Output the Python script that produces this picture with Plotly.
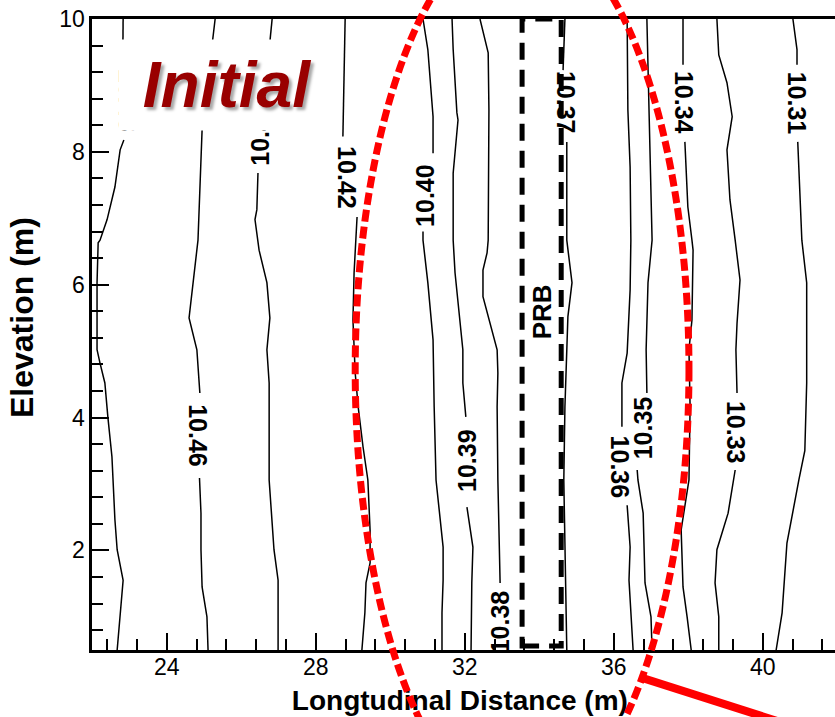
import plotly.graph_objects as go

# ---- figure geometry (pixels) ----
W, H = 835, 717
PLOT_LEFT, PLOT_RIGHT = 92.2, 835.0
PLOT_TOP, PLOT_BOTTOM = 19.0, 650.0

# ---- axis ranges ----
X_RANGE = [22.0, 41.94]
Y_RANGE = [0.5, 10.0]
X_TICKS = [24, 28, 32, 36, 40]
Y_TICKS = [2, 4, 6, 8, 10]

# ---- hydraulic-head isolines (m); None marks the gap left for the inline label ----
levels = ["10.48", "10.46", "10.44", "10.42", "10.40", "10.39", "10.38",
          "10.37", "10.36", "10.35", "10.34", "10.33", "10.31"]

h1048_x = [22.83, 22.82, None, 22.85, 22.75, 22.61, 22.40, 22.21, 22.16, 22.13, 22.13, 22.21,
           22.34, 22.42, 22.53, 22.61, 22.67, 22.83, 22.75, 22.67]
h1048_y = [10.0, 9.30, None, 8.18, 8.03, 7.47, 6.98, 6.67, 6.63, 6.03, 5.02, 4.82,
           4.52, 4.01, 3.41, 2.46, 2.01, 1.55, 1.06, 0.5]

h1046_x = [25.30, 24.95, 24.84, 24.81, 24.71, 24.60, 24.81, 24.89, None,
           24.88, 24.92, 24.92, 24.95, 25.08, 25.11]
h1046_y = [10.0, 8.33, 6.67, 6.52, 6.03, 5.50, 5.02, 4.37, None,
           3.09, 2.56, 2.01, 1.45, 1.00, 0.5]

h1044_x = [26.83, 26.62, None, 26.45, 26.42, 26.37, 26.45, 26.48, 26.69, 26.77, 26.69,
           26.75, 26.75, 26.88, 26.99, 26.99]
h1044_y = [10.0, 8.80, None, 7.68, 7.13, 6.98, 6.67, 6.52, 6.03, 5.50, 5.02,
           4.52, 3.06, 2.01, 1.55, 0.5]

h1042_x = [28.79, 28.73, None, 29.11, 29.08, 29.03, 29.00, 29.06, 29.14, 29.27, 29.40,
           29.46, 29.46, 29.35, 29.32, 29.24]
h1042_y = [10.0, 8.23, None, 7.02, 6.67, 6.18, 5.47, 4.67, 4.16, 3.56, 3.06,
           2.30, 1.81, 1.51, 1.06, 0.5]

h1040_x = [30.88, 31.01, 31.15, 31.15, None, 30.88, 30.88, 31.01, 31.15, 31.18, 31.23,
           31.42, 31.42, 31.39, 31.39]
h1040_y = [10.0, 9.54, 8.53, 7.98, None, 6.80, 6.67, 6.03, 5.17, 4.16, 3.06,
           2.05, 1.55, 1.06, 0.5]

h1039_x = [31.66, 31.69, 31.79, 31.82, 31.69, 31.69, 31.74, 31.87, 31.95, 31.95, 32.03, None,
           32.06, 32.22, 32.19, 32.17]
h1039_y = [10.0, 9.54, 8.59, 8.48, 7.68, 6.67, 6.18, 5.42, 5.02, 4.52, 4.01, None,
           2.65, 2.05, 1.51, 0.5]

h1038_x = [32.41, 32.63, 32.65, 32.63, 32.60, 32.49, 32.49, 32.87, 32.89, 32.87, 32.89, 32.95]
h1038_y = [10.0, 9.49, 8.63, 6.67, 6.48, 6.22, 5.82, 5.02, 4.67, 4.16, 3.06, 1.51]

h1037_x = [34.69, 34.64, None, 34.74, 34.74, 34.88, 34.77, 34.69, 34.66, 34.74]
h1037_y = [10.0, 9.23, None, 8.15, 6.67, 6.03, 5.52, 4.16, 3.06, 0.5]

h1036_x = [36.36, 36.38, 36.44, 36.46, 36.44, 36.36, 36.22, 36.22, None,
           36.36, 36.44, 36.41, 36.46, 36.52]
h1036_y = [10.0, 8.63, 7.77, 6.67, 5.92, 4.97, 4.52, 3.86, None,
           2.68, 2.05, 1.55, 1.00, 0.5]

h1035_x = [36.89, 36.92, 37.00, 37.03, 36.92, 36.87, 36.89, None,
           36.63, 36.65, 36.79, 36.84, 37.00, 37.03]
h1035_y = [10.0, 9.28, 7.47, 6.67, 6.03, 5.02, 4.37, None,
           3.21, 3.06, 2.56, 1.51, 1.00, 0.5]

h1034_x = [37.86, 37.86, None, 37.91, 37.99, 38.10, 38.13, 38.10, 38.02, 38.05, 38.02,
           37.81, 37.86, 37.97, 38.08]
h1034_y = [10.0, 9.31, None, 8.15, 7.17, 6.67, 6.52, 5.47, 5.02, 4.16, 3.06,
           2.31, 1.45, 1.00, 0.5]

h1033_x = [38.77, 38.82, 39.04, 39.18, 39.04, 39.12, 39.26, 39.39, 39.31, 39.28, 39.31, None,
           39.26, 39.07, 38.77, 38.72, 38.82, 38.82]
h1033_y = [10.0, 9.46, 9.04, 8.53, 8.03, 7.28, 6.67, 6.07, 5.42, 5.02, 4.37, None,
           3.21, 2.56, 2.01, 1.51, 1.00, 0.5]

h1031_x = [40.81, 40.92, 40.92, None, 40.94, 41.05, 41.18, 41.18, 41.13, 40.97, 40.65, 40.52, 40.36]
h1031_y = [10.0, 9.54, 9.31, None, 8.15, 6.67, 6.03, 4.52, 3.50, 3.06, 2.11, 1.06, 0.5]

isolines_x = [h1048_x, h1046_x, h1044_x, h1042_x, h1040_x, h1039_x, h1038_x,
              h1037_x, h1036_x, h1035_x, h1034_x, h1033_x, h1031_x]
isolines_y = [h1048_y, h1046_y, h1044_y, h1042_y, h1040_y, h1039_y, h1038_y,
              h1037_y, h1036_y, h1035_y, h1034_y, h1033_y, h1031_y]

# inline label anchors and reading direction (+90 top-down, -90 bottom-up)
label_x = [22.96, 24.84, 26.50, 28.84, 30.93, 32.06, 32.97, 34.74, 36.17, 36.79, 37.89, 39.28, 40.92]
label_y = [8.77, 3.72, 8.27, 7.62, 7.35, 3.36, 0.93, 8.74, 3.26, 3.84, 8.75, 3.77, 8.74]
label_dir = [90, 90, -90, 90, -90, -90, -90, 90, 90, -90, 90, 90, 90]

# permeable reactive barrier outline
prb_x = [33.54, 34.59]
prb_y = [0.56, 10.0]

# zone of interest (ellipse) and its leader line
zone_center = (33.54, 4.72)
zone_semi = (4.48, 6.67)
leader_x = [36.76, 43.69]
leader_y = [0.08, -1.16]

FONT = "Liberation Sans"

# ---- layout helpers: main axes domain, and a full-page overlay sharing the same scale ----
x_dom = [PLOT_LEFT / W, PLOT_RIGHT / W]
y_dom = [(H - PLOT_BOTTOM) / H, (H - PLOT_TOP) / H]


def page_range(rng, dom):
    scale = (rng[1] - rng[0]) / (dom[1] - dom[0])
    return [rng[0] - dom[0] * scale, rng[0] + (1 - dom[0]) * scale]


fig = go.Figure()

for xs, ys in zip(isolines_x, isolines_y):
    fig.add_trace(go.Scatter(x=xs, y=ys, mode="lines", connectgaps=False,
                             line=dict(color="black", width=1.5),
                             hoverinfo="skip", showlegend=False))

# axis title drawn on the page overlay so the ellipse can pass over it
fig.add_trace(go.Scatter(x=[31.87], y=[-0.30], mode="text", xaxis="x2", yaxis="y2",
                         text=["Longtudinal Distance (m)"], textposition="middle center",
                         textfont=dict(family=FONT, size=28, color="black", weight="bold"),
                         hoverinfo="skip", showlegend=False))

for txt, lx, ly, ang in zip(levels, label_x, label_y, label_dir):
    fig.add_annotation(x=lx, y=ly, xref="x", yref="y", text=txt, showarrow=False,
                       textangle=ang, xanchor="center", yanchor="middle",
                       font=dict(family=FONT, size=25, color="black", weight="bold"))

fig.add_annotation(x=sum(prb_x) / 2 + 0.02, y=5.59, xref="x", yref="y", text="PRB",
                   showarrow=False, textangle=-90, xanchor="center", yanchor="middle",
                   font=dict(family=FONT, size=26, color="black", weight="bold"))

fig.add_annotation(x=25.63, y=9.01, xref="x", yref="y", text="Initial", showarrow=False,
                   xanchor="center", yanchor="middle", width=216, height=90,
                   bgcolor="white", borderpad=0,
                   font=dict(family=FONT, size=64, color="#990000", weight="bold",
                             style="italic", shadow="3px 3px 3px #a8a8a8"))

fig.add_annotation(x=22 / W, y=1 - 318 / H, xref="paper", yref="paper",
                   text="Elevation (m)", showarrow=False, textangle=-90,
                   xanchor="center", yanchor="middle",
                   font=dict(family=FONT, size=32, color="black", weight="bold"))

fig.add_shape(type="rect", xref="x", yref="y",
              x0=prb_x[0], x1=prb_x[1], y0=prb_y[0], y1=prb_y[1],
              line=dict(color="black", width=5, dash="17px,10px"), layer="above")

cx, cy = zone_center
ax_, by_ = zone_semi
fig.add_shape(type="circle", xref="x2", yref="y2",
              x0=cx - ax_, x1=cx + ax_, y0=cy - by_, y1=cy + by_,
              line=dict(color="#ff0000", width=7, dash="12px,5px"), layer="above")
fig.add_shape(type="line", xref="x2", yref="y2",
              x0=leader_x[0], y0=leader_y[0], x1=leader_x[1], y1=leader_y[1],
              line=dict(color="#ff0000", width=8), layer="above")

tick_font = dict(family=FONT, size=23, color="black")
fig.update_layout(
    width=W, height=H, margin=dict(l=0, r=0, t=0, b=0),
    paper_bgcolor="white", plot_bgcolor="rgba(0,0,0,0)",
    xaxis=dict(domain=x_dom, range=X_RANGE, tickvals=X_TICKS, ticks="inside",
               ticklen=17, tickwidth=2, tickcolor="black", showline=True, linewidth=2.5,
               linecolor="black", mirror=True, showgrid=False, zeroline=False,
               tickfont=tick_font, anchor="y", automargin=False, ticklabelstandoff=-5,
               minor=dict(tick0=24, dtick=0.8, ticks="inside", ticklen=11, tickwidth=2,
                          tickcolor="black", showgrid=False)),
    yaxis=dict(domain=y_dom, range=Y_RANGE, tickvals=Y_TICKS, ticks="inside",
               ticklen=17, tickwidth=2, tickcolor="black", showline=True, linewidth=2.5,
               linecolor="black", mirror=False, showgrid=False, zeroline=False,
               tickfont=tick_font, anchor="x", automargin=False,
               minor=dict(tick0=0, dtick=0.4, ticks="inside", ticklen=11, tickwidth=2,
                          tickcolor="black", showgrid=False)),
    xaxis2=dict(domain=[0, 1], range=page_range(X_RANGE, x_dom), visible=False,
                anchor="y2", fixedrange=True, automargin=False),
    yaxis2=dict(domain=[0, 1], range=page_range(Y_RANGE, y_dom), visible=False,
                anchor="x2", fixedrange=True, automargin=False),
    showlegend=False,
)

fig.write_html("out.html")
